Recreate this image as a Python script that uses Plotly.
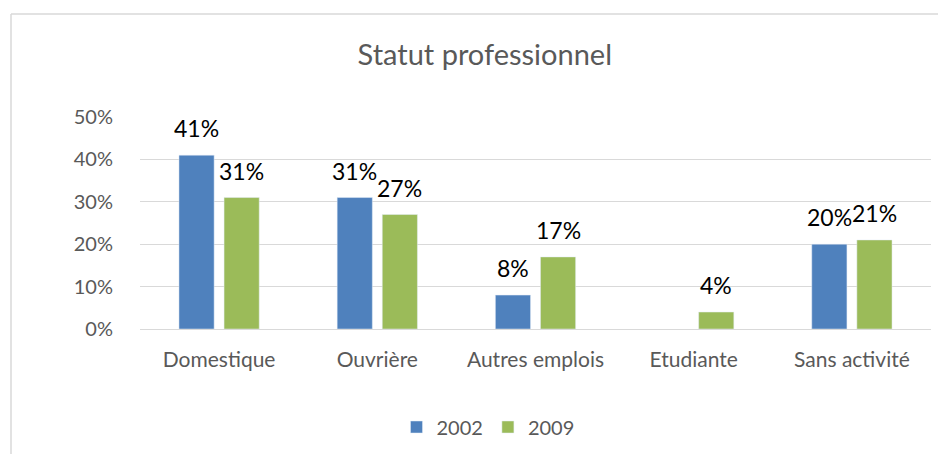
import plotly.graph_objects as go

categories = ["Domestique", "Ouvrière", "Autres emplois", "Etudiante", "Sans activité"]
series_names = ["2002", "2009"]
values_2002 = [0.41, 0.31, 0.08, None, 0.20]
values_2009 = [0.31, 0.27, 0.17, 0.04, 0.21]
tick_vals = [0, 0.1, 0.2, 0.3, 0.4, 0.5]
tick_text = ["0%", "10%", "20%", "30%", "40%", "50%"]

colors = ["#4F81BD", "#9BBB59"]
FONT = "Lato"

W, H = 946, 454
L, R, T, B = 132, 23, 109, 133
pw, ph = W - L - R, H - T - B
BARGAP, GROUPGAP = 0.43, 0.22

fig = go.Figure()
for name, vals, col in zip(series_names, [values_2002, values_2009], colors):
    fig.add_trace(go.Bar(x=categories, y=vals, name=name, marker_color=col))

# data labels placed above each bar (offset by half a group slot)
slot_px = pw / len(categories) * (1 - BARGAP) / len(series_names)
annotations = []
for i, vals in enumerate([values_2002, values_2009]):
    shift = (i - (len(series_names) - 1) / 2) * slot_px
    for c, v in zip(categories, vals):
        if v is None:
            continue
        annotations.append(dict(
            x=c, y=v, xref="x", yref="y", text=f"{round(v*100)}%",
            showarrow=False, xshift=shift, yshift=11, yanchor="bottom",
            font=dict(family=FONT, size=23, color="#000000")))


def px_to_paper_x(px):
    return (px - L) / pw


def px_to_paper_y(py):
    return (H - B - py) / ph


fig.update_layout(
    width=W, height=H,
    margin=dict(l=L, r=R, t=T, b=B),
    paper_bgcolor="white", plot_bgcolor="white",
    barmode="group", bargap=BARGAP, bargroupgap=GROUPGAP,
    title=dict(text="Statut professionnel", x=0.504, xanchor="center",
               y=1 - 47 / H, yanchor="middle",
               font=dict(family=FONT, size=29, color="#595959")),
    font=dict(family=FONT, color="#595959"),
    showlegend=True,
    legend=dict(orientation="h", x=px_to_paper_x(480), xanchor="center",
                y=px_to_paper_y(419), yanchor="middle",
                font=dict(family=FONT, size=20, color="#595959"),
                itemwidth=30, traceorder="normal"),
    xaxis=dict(showgrid=False, showline=False, ticks="outside", ticklen=12,
               tickcolor="rgba(0,0,0,0)",
               tickfont=dict(family=FONT, size=21, color="#595959"),
               fixedrange=True),
    yaxis=dict(range=[0, 0.5], tickvals=tick_vals, ticktext=tick_text,
               showgrid=True, gridcolor="#D9D9D9", gridwidth=1,
               zeroline=True, zerolinecolor="#D9D9D9", zerolinewidth=1,
               ticks="outside", ticklen=22, tickcolor="rgba(0,0,0,0)",
               tickfont=dict(family=FONT, size=20, color="#595959"),
               showline=False, fixedrange=True),
    annotations=annotations,
    shapes=[
        dict(type="line", xref="paper", yref="paper",
             x0=px_to_paper_x(3), x1=px_to_paper_x(960),
             y0=px_to_paper_y(6), y1=px_to_paper_y(6),
             line=dict(color="#D9D9D9", width=1.5)),
        dict(type="line", xref="paper", yref="paper",
             x0=px_to_paper_x(3), x1=px_to_paper_x(3),
             y0=px_to_paper_y(6), y1=px_to_paper_y(470),
             line=dict(color="#D9D9D9", width=1.5)),
    ],
)

fig.write_html("out.html")
